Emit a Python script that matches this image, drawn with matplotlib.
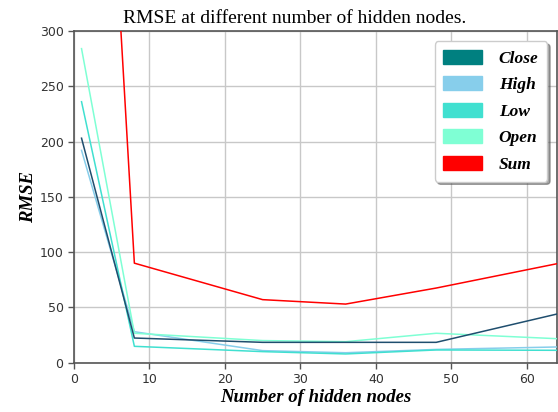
import matplotlib
matplotlib.use("Agg")
import matplotlib.pyplot as plt
from matplotlib.patches import Patch

hidden_nodes = [1, 8, 25, 36, 48, 64]
close_rmse = [203, 22.3, 18.4, 18.4, 18.4, 44]
high_rmse = [192, 28, 10.9, 9, 12, 14.2]
low_rmse = [236, 14.8, 10, 7.9, 11.5, 11.2]
open_rmse = [284, 26.6, 20, 19, 26.6, 21.7]
sum_rmse = [915, 90, 57, 53, 67.5, 89.5]

series_names = ["Close", "High", "Low", "Open", "Sum"]
legend_colors = ["#008080", "#87CEEB", "#40E0D0", "#7FFFD4", "#FF0000"]
line_colors = ["#1f4e6e", "#87CEEB", "#40E0D0", "#7FFFD4", "#FF0000"]

fig = plt.figure(figsize=(5.58, 4.12), dpi=100)
ax = fig.add_axes([0.1326, 0.1197, 0.8655, 0.8052])

data = [close_rmse, high_rmse, low_rmse, open_rmse, sum_rmse]
order = [1, 2, 3, 0, 4]
for i in order:
    ax.plot(hidden_nodes, data[i], color=line_colors[i], lw=1.1, zorder=3)

ax.set_xlim(0, 64)
ax.set_ylim(0, 300)
ax.set_xticks([0, 10, 20, 30, 40, 50, 60])
ax.set_yticks([0, 50, 100, 150, 200, 250, 300])
ax.grid(True, color="#c8c8c8", lw=1.0)
ax.set_axisbelow(True)
for s in ax.spines.values():
    s.set_color("#555555")
    s.set_linewidth(1.2)
ax.tick_params(colors="#333333", labelsize=9, direction="out", length=4, width=1, color="#555555")

ax.set_title("RMSE at different number of hidden nodes.", family="Liberation Serif", fontsize=14, pad=6, x=0.4576)
ax.set_xlabel("Number of hidden nodes", family="Liberation Serif", fontsize=13.5, fontweight="bold", style="italic", labelpad=2)
ax.set_ylabel("RMSE", family="Liberation Serif", fontsize=13.5, fontweight="bold", style="italic", labelpad=2)

handles = [Patch(facecolor=c, edgecolor=c) for c in legend_colors]
leg = ax.legend(handles, series_names, loc="upper right", bbox_to_anchor=(0.998, 0.995),
                prop={"family": "Liberation Serif", "weight": "bold", "style": "italic", "size": 12.5},
                handlelength=2.2, handleheight=0.85, labelspacing=0.55, handletextpad=1.0,
                borderpad=0.5, fancybox=True, shadow=True, framealpha=1.0)
leg.get_frame().set_edgecolor("#cccccc")

fig.savefig("out.png", dpi=100)
